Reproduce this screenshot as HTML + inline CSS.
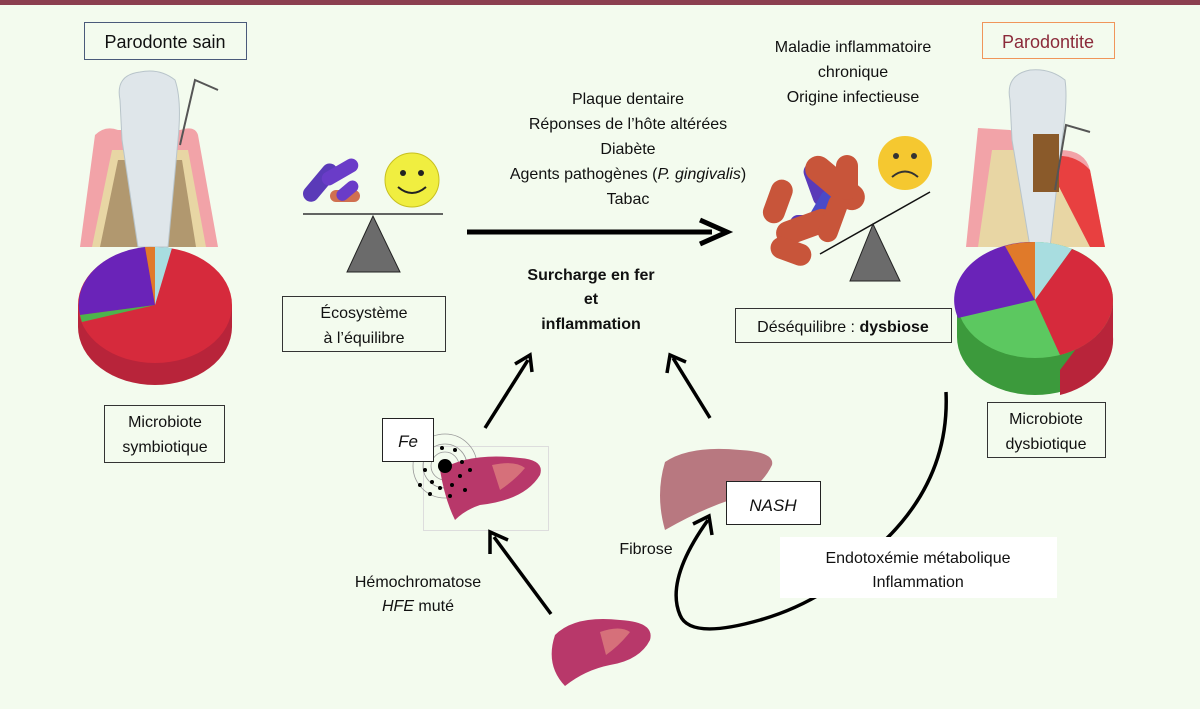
<!DOCTYPE html>
<html><head><meta charset="utf-8"><style>
body{margin:0;width:1200px;height:709px;background:#f3fbee;overflow:hidden;font-family:"Liberation Sans","DejaVu Sans",sans-serif;}
svg{display:block}
text{font-family:"Liberation Sans","DejaVu Sans",sans-serif;fill:#111}
</style></head><body>
<svg width="1200" height="709" viewBox="0 0 1200 709">
<rect x="0" y="0" width="1200" height="5" fill="#8b3f4f"/>

<!-- Left tooth -->
<g>
<path d="M80,247 L95,135 Q105,125 118,130 L180,130 Q195,125 198,135 L218,247 Z" fill="#f2a3a8"/>
<path d="M92,247 L112,150 L188,150 L206,247 Z" fill="#e8d6a4"/>
<path d="M100,247 L118,160 L182,160 L196,247 Z" fill="#7a5a3a" opacity="0.5"/>
<path d="M120,100 Q115,75 140,72 Q160,68 175,80 Q182,100 178,140 L168,247 L138,247 L122,140 Z" fill="#dfe6ea" stroke="#b8c4ca"/>
<path d="M180,145 L195,80 L218,90" fill="none" stroke="#555" stroke-width="2"/>
</g>
<rect x="84.5" y="22.5" width="162" height="37" fill="none" stroke="#4a5a7a"/>
<text x="165" y="48" font-size="18" text-anchor="middle">Parodonte sain</text>

<!-- Left pie -->
<g>
<path d="M78,305 L78,327 A77,58 0 0 0 232,327 L232,305 Z" fill="#b8243a"/>
<ellipse cx="155" cy="305" rx="77" ry="58" fill="#d62a3c"/>
<path d="M155,305 L145,247 A77,58 0 0 0 80,315 Z" fill="#6a23b8"/>
<path d="M155,305 L80,315 A77,58 0 0 0 82,322 Z" fill="#4cb34c"/>
<path d="M155,305 L145,247 A77,58 0 0 1 155,247 Z" fill="#e07a2a"/>
<path d="M155,305 L155,247 A77,58 0 0 1 172,248 Z" fill="#a8dde0"/>
</g>
<rect x="104.5" y="405.5" width="120" height="57" fill="none" stroke="#333"/>
<text x="165" y="427" font-size="16" text-anchor="middle">Microbiote</text>
<text x="165" y="452" font-size="16" text-anchor="middle">symbiotique</text>

<!-- left bacteria + smiley + seesaw -->
<g fill="#5a3ab8">
<rect x="298" y="175" width="45" height="16" rx="8" transform="rotate(-50 320 183)"/>
<rect x="320" y="165" width="40" height="14" rx="7" transform="rotate(-30 340 172)" fill="#6a3cc8"/>
<rect x="330" y="190" width="30" height="12" rx="6" fill="#d07050"/>
<rect x="335" y="185" width="25" height="12" rx="6" transform="rotate(-40 347 191)" fill="#6a3cc8"/>
</g>
<circle cx="412" cy="180" r="27" fill="#f0ee40" stroke="#c8c020"/>
<circle cx="403" cy="173" r="3" fill="#222"/><circle cx="421" cy="173" r="3" fill="#222"/>
<path d="M398,187 Q412,199 426,187" fill="none" stroke="#222" stroke-width="2"/>
<line x1="303" y1="214" x2="443" y2="214" stroke="#333" stroke-width="1.5"/>
<path d="M373,216 L347,272 L400,272 Z" fill="#6b6b6b" stroke="#222"/>
<rect x="282.5" y="296.5" width="163" height="55" fill="none" stroke="#333"/>
<text x="364" y="318" font-size="16" text-anchor="middle">Écosystème</text>
<text x="364" y="343" font-size="16" text-anchor="middle">à l’équilibre</text>

<!-- center text -->
<g font-size="16" text-anchor="middle">
<text x="628" y="104">Plaque dentaire</text>
<text x="628" y="129">Réponses de l’hôte altérées</text>
<text x="628" y="154">Diabète</text>
<text x="628" y="179">Agents pathogènes (<tspan font-style="italic">P. gingivalis</tspan>)</text>
<text x="628" y="204">Tabac</text>
</g>
<line x1="467" y1="232" x2="712" y2="232" stroke="#000" stroke-width="5"/>
<path d="M700,220 L727,232 L700,244" fill="none" stroke="#000" stroke-width="5"/>
<g font-size="16" font-weight="bold" text-anchor="middle">
<text x="591" y="280">Surcharge en fer</text>
<text x="591" y="304">et</text>
<text x="591" y="329">inflammation</text>
</g>

<!-- right texts -->
<g font-size="16" text-anchor="middle">
<text x="853" y="52">Maladie inflammatoire</text>
<text x="853" y="77">chronique</text>
<text x="853" y="102">Origine infectieuse</text>
</g>
<rect x="982.5" y="22.5" width="132" height="36" fill="none" stroke="#f0955a"/>
<text x="1048" y="48" font-size="18" text-anchor="middle" style="fill:#8b2a3a">Parodontite</text>

<!-- right tooth -->
<g>
<path d="M966,247 L978,128 L1010,130 L1060,150 Q1085,150 1090,170 L1105,247 Z" fill="#f2a3a8"/>
<path d="M1035,160 Q1070,148 1090,170 L1105,247 L1040,247 Z" fill="#e84040"/>
<path d="M978,247 L992,150 L1040,150 L1090,247 Z" fill="#e8d6a4"/>
<path d="M1010,100 Q1005,75 1030,70 Q1050,68 1065,80 Q1068,100 1062,140 L1050,247 L1030,247 L1012,140 Z" fill="#dfe6ea" stroke="#b8c4ca"/>
<rect x="1033" y="134" width="26" height="58" fill="#8a5a2a"/>
<path d="M1055,190 L1066,125 L1090,132" fill="none" stroke="#555" stroke-width="2"/>
</g>

<!-- right bacteria, sad face, seesaw -->
<g>
<rect x="795" y="175" width="45" height="18" rx="9" fill="#5a3ab8" transform="rotate(70 817 184)"/>
<rect x="790" y="215" width="40" height="16" rx="8" fill="#5a3ab8"/>
<rect x="805" y="200" width="35" height="14" rx="7" fill="#4a4ac8" transform="rotate(-60 822 207)"/>
<rect x="800" y="170" width="70" height="26" rx="13" fill="#c8553a" transform="rotate(40 835 183)"/>
<rect x="755" y="190" width="45" height="22" rx="11" fill="#c8553a" transform="rotate(-70 778 201)"/>
<rect x="775" y="215" width="60" height="24" rx="12" fill="#c8553a" transform="rotate(-20 805 227)"/>
<rect x="808" y="208" width="50" height="20" rx="10" fill="#c8553a" transform="rotate(-70 833 218)"/>
<rect x="770" y="240" width="42" height="22" rx="11" fill="#c8553a" transform="rotate(20 790 251)"/>
<rect x="836" y="155" width="22" height="45" rx="11" fill="#c8553a"/>
</g>
<circle cx="905" cy="163" r="27" fill="#f5c830"/>
<circle cx="896" cy="156" r="3" fill="#333"/><circle cx="914" cy="156" r="3" fill="#333"/>
<path d="M892,177 Q905,166 918,177" fill="none" stroke="#333" stroke-width="2"/>
<line x1="820" y1="254" x2="930" y2="192" stroke="#111" stroke-width="1.5"/>
<path d="M873,224 L850,281 L900,281 Z" fill="#6b6b6b" stroke="#222"/>
<rect x="735.5" y="308.5" width="216" height="34" fill="none" stroke="#333"/>
<text x="843" y="332" font-size="16" text-anchor="middle">Déséquilibre : <tspan font-weight="bold">dysbiose</tspan></text>

<!-- right pie -->
<g>
<path d="M957,300 L957,337 A78,58 0 0 0 1113,337 L1113,300 Z" fill="#3c9a3c"/>
<path d="M1060,370 L1060,395 A78,58 0 0 0 1113,337 L1113,300 Z" fill="#b8243a"/>
<ellipse cx="1035" cy="300" rx="78" ry="58" fill="#5cc860"/>
<path d="M1035,300 L1035,242 A78,58 0 0 0 958,318 Z" fill="#6a23b8"/>
<path d="M1035,300 L1005,246 A78,58 0 0 1 1035,242 Z" fill="#e07a2a"/>
<path d="M1035,300 L1035,242 A78,58 0 0 1 1072,249 Z" fill="#a8dde0"/>
<path d="M1035,300 L1072,249 A78,58 0 0 1 1060,355 Z" fill="#d62a3c"/>
</g>
<rect x="987.5" y="402.5" width="118" height="55" fill="none" stroke="#333"/>
<text x="1046" y="424" font-size="16" text-anchor="middle">Microbiote</text>
<text x="1046" y="449" font-size="16" text-anchor="middle">dysbiotique</text>

<!-- arrows to center -->
<line x1="485" y1="428" x2="528" y2="360" stroke="#000" stroke-width="3.5"/>
<path d="M515,364 L530,355 L532,372" fill="none" stroke="#000" stroke-width="3.5"/>
<line x1="710" y1="418" x2="673" y2="358" stroke="#000" stroke-width="3.5"/>
<path d="M667,373 L670,355 L686,362" fill="none" stroke="#000" stroke-width="3.5"/>

<!-- Fe liver -->
<rect x="423.5" y="446.5" width="125" height="84" fill="none" stroke="#ddd"/>
<g fill="none" stroke="#999" stroke-width="0.8">
<circle cx="445" cy="466" r="14"/><circle cx="445" cy="466" r="22"/><circle cx="445" cy="466" r="32"/>
</g>
<path d="M440,470 Q470,452 520,458 Q545,460 540,475 Q525,500 480,505 Q465,510 455,520 Q445,500 440,470 Z" fill="#b8386a"/>
<path d="M492,465 Q515,460 525,468 Q515,480 500,490 Z" fill="#d6707a"/>
<circle cx="445" cy="466" r="7" fill="#000"/>
<g fill="#000">
<circle cx="430" cy="455" r="2"/><circle cx="425" cy="470" r="2"/><circle cx="432" cy="482" r="2"/><circle cx="440" cy="488" r="2"/><circle cx="452" cy="485" r="2"/><circle cx="460" cy="476" r="2"/><circle cx="462" cy="462" r="2"/><circle cx="455" cy="450" r="2"/><circle cx="442" cy="448" r="2"/><circle cx="420" cy="485" r="2"/><circle cx="430" cy="494" r="2"/><circle cx="470" cy="470" r="2"/><circle cx="465" cy="490" r="2"/><circle cx="450" cy="496" r="2"/>
</g>
<rect x="382.5" y="418.5" width="51" height="43" fill="#fff" stroke="#222"/>
<text x="408" y="447" font-size="17" font-style="italic" text-anchor="middle">Fe</text>

<!-- NASH liver -->
<path d="M665,462 Q690,445 740,450 Q775,452 772,465 Q760,490 730,500 Q700,510 665,530 Q655,495 665,462 Z" fill="#b87880"/>
<rect x="726.5" y="481.5" width="94" height="43" fill="#fff" stroke="#222"/>
<text x="773" y="511" font-size="17" font-style="italic" text-anchor="middle">NASH</text>
<text x="646" y="554" font-size="16" text-anchor="middle">Fibrose</text>

<!-- hemochromatose -->
<text x="418" y="587" font-size="16" text-anchor="middle">Hémochromatose</text>
<text x="418" y="611" font-size="16" text-anchor="middle"><tspan font-style="italic">HFE</tspan> muté</text>
<line x1="551" y1="614" x2="494" y2="537" stroke="#000" stroke-width="3.5"/>
<path d="M490,554 L490,532 L508,540" fill="none" stroke="#000" stroke-width="3.5"/>

<!-- bottom liver -->
<path d="M555,635 Q575,615 620,620 Q655,622 650,640 Q640,660 610,665 Q585,670 565,686 Q545,665 555,635 Z" fill="#b8386a"/>
<path d="M600,632 Q620,625 630,632 Q620,645 606,655 Z" fill="#d6707a"/>

<!-- curved arrow -->
<path d="M946,392 Q950,480 880,545 Q830,600 760,620 Q690,640 680,615 Q665,580 708,520" fill="none" stroke="#000" stroke-width="3.5"/>
<path d="M693,524 L709,516 L712,535" fill="none" stroke="#000" stroke-width="3.5"/>
<rect x="780" y="537" width="277" height="61" fill="#fff"/>
<text x="918" y="563" font-size="16" text-anchor="middle">Endotoxémie métabolique</text>
<text x="918" y="587" font-size="16" text-anchor="middle">Inflammation</text>
</svg>
</body></html>
